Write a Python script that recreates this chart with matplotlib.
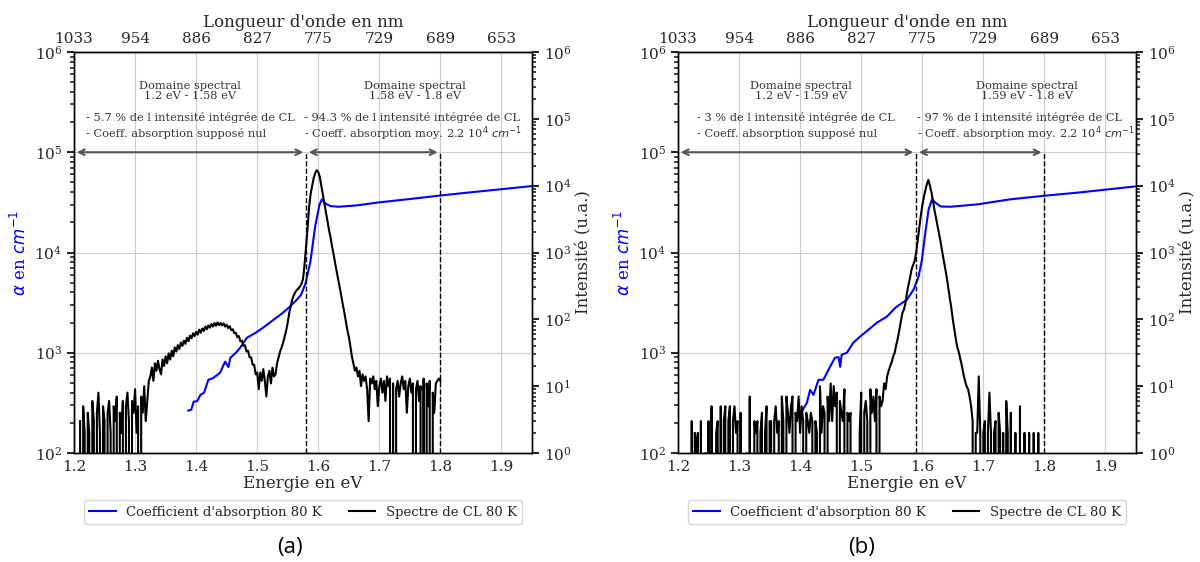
import numpy as np
import matplotlib.pyplot as plt

plt.rcParams['font.family'] = 'DejaVu Serif'
plt.rcParams['text.color'] = '#262626'
plt.rcParams['axes.labelcolor'] = '#262626'
plt.rcParams['xtick.color'] = '#262626'
plt.rcParams['ytick.color'] = '#262626'

# Energy ticks (eV) and the wavelength labels shown on the top axis (nm)
e_ticks = [1.2, 1.3, 1.4, 1.5, 1.6, 1.7, 1.8, 1.9]
wl_labels = ['1033', '954', '886', '827', '775', '729', '689', '653']

# CL spectra (counts), sampled from 1.21 eV to 1.80 eV every 2.5 meV
cl_a = [3, 0, 5, 2, 0, 4, 2, 0, 6, 3,
        0, 4, 8, 2, 0, 5, 3, 0, 4, 6,
        2, 0, 5, 3, 7, 0, 4, 2, 6, 0,
        5, 8, 3, 0, 6, 4, 9, 2, 5, 0,
        7, 4, 10, 3, 6, 12, 14, 19, 12, 22,
        17, 24, 18, 15, 25, 20, 28, 22, 31, 25,
        34, 28, 38, 33, 41, 36, 45, 40, 48, 43,
        53, 47, 57, 52, 62, 56, 65, 59, 70, 63,
        73, 67, 78, 71, 81, 75, 85, 78, 88, 80,
        90, 82, 88, 81, 87, 78, 83, 74, 79, 69,
        71, 62, 63, 54, 56, 47, 48, 40, 41, 33,
        34, 27, 27, 21, 21, 15, 16, 9, 16, 12,
        18, 12, 7, 14, 17, 11, 19, 14, 15, 22,
        27, 33, 38, 45, 55, 68, 90, 125, 160, 200,
        230, 255, 275, 290, 310, 340, 400, 650, 1200, 2300,
        4800, 7500, 10000, 13000, 15500, 17000, 16000, 13500, 10000, 7500,
        5500, 4000, 3000, 2200, 1700, 1250, 950, 700, 530, 400,
        310, 230, 170, 130, 95, 70, 55, 40, 28, 22,
        17, 19, 14, 17, 10, 15, 12, 14, 9, 3,
        13, 11, 14, 9, 12, 5, 10, 13, 8, 12,
        6, 14, 10, 13, 0, 11, 0, 9, 12, 7,
        11, 14, 9, 12, 4, 10, 13, 8, 11, 0,
        9, 12, 6, 10, 0, 13, 0, 11, 5, 12,
        0, 8, 4, 11, 12, 13, 12]

cl_b = [0, 0, 0, 0, 0, 3, 0, 2, 1, 2,
        0, 3, 0, 0, 1, 0, 3, 0, 5, 0,
        0, 2, 3, 0, 5, 0, 3, 5, 0, 3,
        5, 0, 3, 5, 2, 3, 0, 4, 0, 0,
        0, 1, 0, 7, 0, 0, 3, 2, 3, 0,
        2, 4, 0, 2, 5, 0, 3, 3, 0, 3,
        5, 2, 3, 0, 7, 3, 0, 7, 4, 2,
        5, 7, 0, 4, 3, 7, 2, 5, 3, 0,
        4, 3, 2, 4, 3, 0, 3, 2, 0, 10,
        2, 5, 4, 0, 7, 3, 11, 3, 10, 5,
        8, 0, 6, 4, 3, 9, 0, 4, 3, 4,
        0, 0, 0, 0, 0, 2, 8, 0, 4, 6,
        3, 0, 9, 4, 7, 3, 9, 0, 7, 5,
        6, 11, 9, 14, 17, 20, 23, 28, 32, 42,
        52, 70, 95, 125, 140, 175, 250, 330, 420, 560,
        650, 750, 1000, 1500, 2300, 3500, 5000, 6700, 8500, 10500,
        12200, 10000, 8000, 6000, 4300, 3300, 2500, 1900, 1450, 1050,
        780, 580, 430, 300, 210, 150, 100, 70, 50, 38,
        32, 25, 20, 15, 12, 10, 9, 7, 5, 3,
        0, 2, 2, 14, 2, 0, 2, 3, 0, 2,
        8, 2, 0, 2, 3, 0, 4, 2, 0, 2,
        0, 6, 2, 0, 4, 0, 0, 2, 0, 0,
        5, 0, 0, 2, 0, 0, 2, 0, 0, 2,
        0, 0, 2, 0, 0, 0, 0]

cl_e = np.linspace(1.21, 1.80, len(cl_a))

# Absorption coefficient (cm-1)
abs_a_e = [1.387, 1.392, 1.396, 1.402, 1.407, 1.413, 1.420, 1.428, 1.439, 1.4475,
           1.453, 1.456, 1.465, 1.472, 1.483, 1.495, 1.505, 1.516, 1.527, 1.540,
           1.554, 1.565, 1.572, 1.579, 1.587, 1.595, 1.602, 1.606, 1.611, 1.620,
           1.633, 1.663, 1.699, 1.745, 1.80, 1.833, 1.95]
abs_a = [265, 270, 325, 330, 380, 400, 537, 560, 630, 815,
         720, 890, 1000, 1120, 1410, 1550, 1700, 1900, 2140, 2450,
         2900, 3390, 3800, 4900, 8000, 18300, 30000, 33900, 31000, 29000,
         28600, 29500, 31600, 33900, 37000, 38900, 46000]

abs_b_e = [1.4027, 1.411, 1.4164, 1.4219, 1.43, 1.438, 1.449, 1.457, 1.463, 1.4656,
           1.468, 1.4766, 1.487, 1.498, 1.512, 1.526, 1.542, 1.556, 1.575, 1.5858,
           1.594, 1.5995, 1.605, 1.6104, 1.616, 1.621, 1.63, 1.646, 1.69, 1.744,
           1.8016, 1.859, 1.95]
abs_b = [259, 316, 427, 380, 537, 537, 724, 891, 905, 724,
         955, 1000, 1260, 1445, 1700, 2000, 2290, 2820, 3390, 4270,
         5750, 8500, 15800, 26900, 33900, 31600, 28800, 28600, 30200, 33900,
         36900, 39800, 45700]

fig = plt.figure(figsize=(12, 5.62), dpi=100)


def panel(rect, abs_e, abs_v, cl_v, cut, pct, coeff_txt, title_x, bullet_x, letter, letter_x):
    ax = fig.add_axes(rect)
    ax2 = ax.twinx()
    l1, = ax.plot(abs_e, abs_v, color='blue', lw=1.5, label="Coefficient d'absorption 80 K")
    l2, = ax2.plot(cl_e, cl_v, color='black', lw=1.5, label='Spectre de CL 80 K')

    ax.set_yscale('log')
    ax.set_ylim(1e2, 1e6)
    ax2.set_yscale('log')
    ax2.set_ylim(1, 1e6)
    ax.set_xlim(1.2, 1.95)
    ax.set_xticks(e_ticks)
    ax.grid(True, color='#cccccc', lw=0.8)
    ax.set_axisbelow(True)

    for a in (ax, ax2):
        for s in a.spines.values():
            s.set_color('black')
            s.set_linewidth(1)
        a.tick_params(axis='y', which='major', length=5, width=1.5, labelsize=11)
        a.tick_params(axis='y', which='minor', length=3, width=1.2)
    ax.tick_params(axis='x', length=0, labelsize=11, pad=5)

    ax.set_xlabel('Energie en eV', fontsize=12, labelpad=1)
    ax.set_ylabel(r'$\alpha$ en $cm^{-1}$', color='blue', fontsize=12, labelpad=3)
    ax2.set_ylabel('Intensité (u.a.)', fontsize=12, labelpad=3)

    top = ax.secondary_xaxis('top')
    top.set_xticks(e_ticks, labels=wl_labels)
    top.tick_params(length=0, labelsize=11, pad=4)
    top.set_xlabel("Longueur d'onde en nm", fontsize=12, labelpad=4)

    # spectral domains
    for x in (cut, 1.8):
        ax.plot([x, x], [1e2, 1e5], color='black', ls='--', lw=1)
    arrow = dict(arrowstyle='<->', color='#555555', lw=1.5)
    ax.annotate('', xy=(1.2, 1e5), xytext=(cut, 1e5), arrowprops=arrow)
    ax.annotate('', xy=(cut, 1e5), xytext=(1.8, 1e5), arrowprops=arrow)

    tr = ax.get_xaxis_transform()
    tkw = dict(transform=tr, fontsize=8.2, color='#333333', va='center')
    ax.text(title_x[0], 0.903, 'Domaine spectral\n1.2 eV - %s eV' % cut, ha='center',
            linespacing=1.0, **tkw)
    ax.text(title_x[1], 0.903, 'Domaine spectral\n%s eV - 1.8 eV' % cut, ha='center',
            linespacing=1.0, **tkw)
    ax.text(bullet_x[0], 0.836, '- %s %% de l intensité intégrée de CL' % pct[0], ha='left', **tkw)
    ax.text(bullet_x[0], 0.797, '- Coeff. absorption supposé nul', ha='left', **tkw)
    ax.text(bullet_x[1], 0.836, '- %s %% de l intensité intégrée de CL' % pct[1], ha='left', **tkw)
    ax.text(bullet_x[1], 0.797, coeff_txt, ha='left', **tkw)

    ax.legend(handles=[l1, l2], loc='upper center', bbox_to_anchor=(0.5, -0.102), ncol=2,
              fontsize=9.5, edgecolor='#cccccc', fancybox=True)
    fig.text(letter_x, 0.025, letter, fontsize=16, family='Open Sans', ha='center', va='center',
             color='black')


coeff = r'- Coeff. absorption moy. 2.2 10$^4$ $cm^{-1}$'
panel([74 / 1200, 109 / 562, 458 / 1200, 401 / 562], abs_a_e, abs_a, cl_a, 1.58,
      ('5.7', '94.3'), coeff, (1.390, 1.759), (1.2197, 1.577), '(a)', 290 / 1200)
panel([678 / 1200, 109 / 562, 458 / 1200, 401 / 562], abs_b_e, abs_b, cl_b, 1.59,
      ('3', '97'), coeff, (1.4016, 1.772), (1.231, 1.592), '(b)', 862 / 1200)

plt.savefig('out.png', dpi=100)
plt.close()
